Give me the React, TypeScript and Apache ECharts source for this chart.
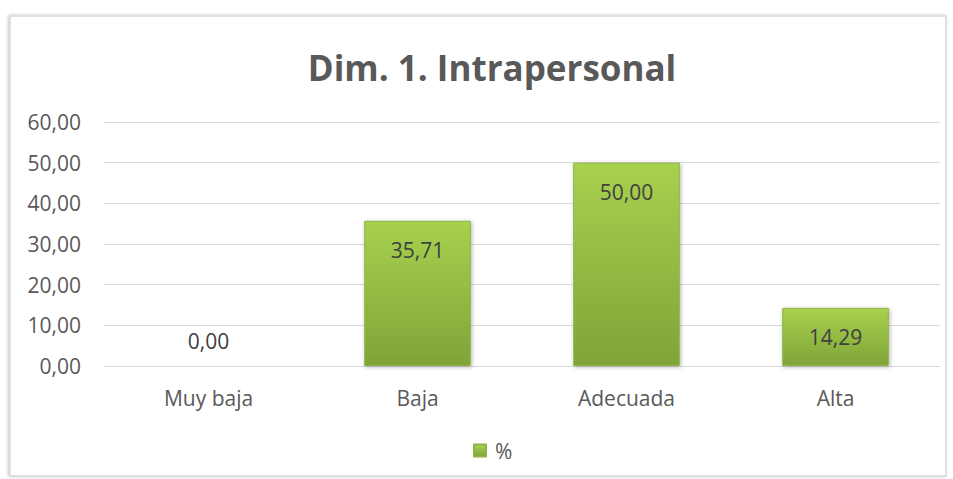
import React, { useEffect, useRef } from "react";
import * as echarts from "echarts";

const categories = ["Muy baja", "Baja", "Adecuada", "Alta"];
const values = [0.0, 35.71, 50.0, 14.29];
const seriesName = "%";
const chartTitle = "Dim. 1. Intrapersonal";

const fmt = (v: number) => v.toFixed(2).replace(".", ",");

export default function App() {
  const ref = useRef<HTMLDivElement>(null);
  useEffect(() => {
    if (!ref.current) return;
    const chart = echarts.init(ref.current, undefined, { renderer: "svg" });
    const font = "'Open Sans', sans-serif";
    chart.setOption({
      animation: false,
      backgroundColor: "#ffffff",
      graphic: [
        {
          type: "rect",
          shape: { x: 10, y: 16, width: 936, height: 460 },
          style: {
            fill: "#ffffff",
            stroke: "#d9d9d9",
            lineWidth: 1.5,
            shadowBlur: 3,
            shadowColor: "rgba(0,0,0,0.25)",
            shadowOffsetX: -1,
            shadowOffsetY: 0,
          },
          z: -10,
          silent: true,
        },
      ],
      title: {
        text: chartTitle,
        left: 487,
        textAlign: "center",
        top: 45,
        textStyle: {
          fontFamily: font,
          fontWeight: "bold",
          fontSize: 35,
          color: "#595959",
        },
      },
      legend: {
        data: [seriesName],
        top: 440,
        left: 473,
        padding: 0,
        itemWidth: 12,
        itemHeight: 12,
        icon: "rect",
        textStyle: { fontFamily: font, fontSize: 21, color: "#595959", padding: [0, 0, 0, 4] },
      },
      grid: { left: 104, right: 13, top: 122, bottom: 113 },
      xAxis: {
        type: "category",
        data: categories,
        axisLine: { show: true, lineStyle: { color: "#d9d9d9" } },
        axisTick: { show: false },
        axisLabel: { fontFamily: font, fontSize: 21, color: "#595959", margin: 21 },
      },
      yAxis: {
        type: "value",
        min: 0,
        max: 60,
        interval: 10,
        axisLine: { show: false },
        axisTick: { show: false },
        splitLine: { lineStyle: { color: "#d9d9d9", width: 1 } },
        axisLabel: {
          fontFamily: font,
          fontSize: 21,
          color: "#595959",
          margin: 23,
          formatter: (v: number) => fmt(v),
        },
      },
      series: [
        {
          name: seriesName,
          type: "bar",
          data: values.map((v) =>
            v === 0
              ? { value: v, label: { position: "top", distance: 14 } }
              : { value: v }
          ),
          barWidth: "51%",
          itemStyle: {
            color: new echarts.graphic.LinearGradient(0, 0, 0, 1, [
              { offset: 0, color: "#a8d14e" },
              { offset: 1, color: "#7fa438" },
            ]),
            borderColor: "#8db545",
            borderWidth: 1,
            shadowBlur: 4,
            shadowColor: "rgba(0,0,0,0.3)",
            shadowOffsetX: 1,
            shadowOffsetY: 1,
          },
          label: {
            show: true,
            position: "insideTop",
            distance: 19,
            formatter: (p: any) => fmt(p.value),
            fontFamily: font,
            fontSize: 21,
            color: "#404040",
          },
        },
      ],
    });
    return () => chart.dispose();
  }, []);
  return (
    <div
      ref={ref}
      style={{ position: "fixed", left: 0, top: 0, width: 953, height: 479 }}
    />
  );
}
